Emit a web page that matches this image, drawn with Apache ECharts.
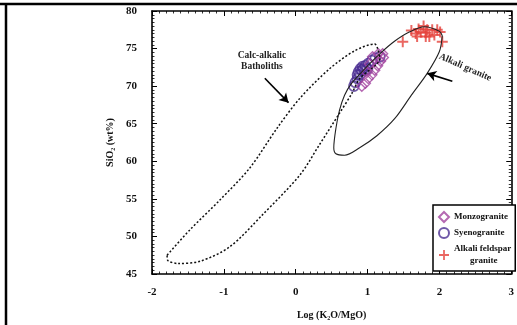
<!DOCTYPE html>
<html>
<head>
<meta charset="utf-8">
<script src="https://cdn.jsdelivr.net/npm/echarts@6/dist/echarts.min.js"></script>
<style>
html,body{margin:0;padding:0;background:#fff;}
#chart{width:517px;height:325px;}
</style>
</head>
<body>
<div id="chart"></div>
<script>
// ---- Data ----
const xTicks = [-2, -1, 0, 1, 2, 3];
const yTicks = [45, 50, 55, 60, 65, 70, 75, 80];

const calcAlkalicX = [-1.79, -1.47, -1.06, -0.64, -0.26, 0.06, 0.47, 0.82, 1.10, 1.14, 1.17, 0.89, 0.78, 0.61, 0.33, 0.06, -0.46, -0.92, -1.33, -1.64, -1.78, -1.79];
const calcAlkalicY = [47.5, 50.9, 54.8, 59.1, 64.4, 68.4, 72.3, 74.7, 75.6, 75.0, 73.7, 71.0, 69.0, 66.4, 62.2, 58.2, 52.9, 48.6, 46.7, 46.4, 46.8, 47.5];

const alkaliGraniteX = [2.04, 2.00, 1.79, 1.58, 1.38, 1.17, 0.96, 0.78, 0.68, 0.61, 0.56, 0.53, 0.56, 0.68, 0.89, 1.13, 1.38, 1.61, 1.83, 2.00, 2.04];
const alkaliGraniteY = [76.7, 77.3, 77.9, 77.2, 76.0, 74.3, 72.3, 70.4, 68.8, 66.8, 64.4, 61.8, 61.0, 60.8, 61.8, 63.4, 65.7, 68.8, 71.7, 74.6, 76.7];

const monzoX = [0.92, 0.97, 1.01, 1.06, 1.10, 1.14, 1.18, 1.22, 1.21, 1.15, 1.07, 1.03, 0.99];
const monzoY = [70.0, 70.4, 71.0, 71.5, 72.1, 72.7, 73.3, 73.8, 74.3, 74.3, 73.9, 72.9, 71.8];

const syenoX = [0.81, 0.83, 0.86, 0.89, 0.92, 0.94, 0.97, 1.01, 1.06, 1.11, 1.17, 0.875, 0.90, 0.93, 0.96, 0.86, 1.00];
const syenoY = [70.0, 70.5, 71.0, 71.5, 72.1, 72.3, 72.7, 73.0, 73.4, 73.7, 73.9, 71.9, 72.3, 72.6, 72.1, 71.5, 72.3];

const afgX = [1.49, 1.61, 1.67, 1.71, 1.74, 1.78, 1.81, 1.83, 1.86, 1.90, 1.93, 1.97, 2.01, 2.04, 1.69, 1.81];
const afgY = [75.9, 77.4, 77.0, 77.6, 77.2, 78.0, 77.1, 77.5, 76.6, 77.5, 76.8, 77.5, 77.2, 75.9, 76.6, 76.6];

const seriesNames = ['Monzogranite', 'Syenogranite', 'Alkali feldspar\ngranite'];
const xTitle = 'Log (K\u2082O/MgO)';
const yTitle = 'SiO\u2082 (wt%)';

const calcArrow = [[-0.43, 71.05], [-0.10, 67.8]];
const alkArrow = [[2.18, 70.66], [1.83, 71.7]];

function zip(xs, ys) { return xs.map((x, i) => [x, ys[i]]); }

const FONT = '"Liberation Serif", "Times New Roman", serif';
const crossPath = 'path://M4.1,0 H5.9 V4.1 H10 V5.9 H5.9 V10 H4.1 V5.9 H0 V4.1 H4.1 Z';

const chart = echarts.init(document.getElementById('chart'));

function axisBase(pos, showLabel) {
  return {
    type: 'value',
    position: pos,
    axisLine: {show: true, onZero: false, lineStyle: {color: '#000', width: 1.6}},
    axisTick: {show: true, inside: true, length: 5, lineStyle: {color: '#000', width: 1}},
    minorTick: {show: true, splitNumber: 10, length: 2.5, lineStyle: {color: '#000', width: 0.8}},
    splitLine: {show: false},
    axisLabel: {show: showLabel, color: '#111', fontFamily: FONT, fontWeight: 'bold', fontSize: 11}
  };
}

const xb = Object.assign(axisBase('bottom', true), {
  min: xTicks[0], max: xTicks[xTicks.length - 1], interval: 1,
  name: xTitle, nameLocation: 'middle', nameGap: 36,
  nameTextStyle: {color: '#111', fontFamily: FONT, fontWeight: 'bold', fontSize: 10}
});
xb.axisLabel.margin = 13;
const xt = Object.assign(axisBase('top', false), {min: xTicks[0], max: xTicks[xTicks.length - 1], interval: 1});
const yl = Object.assign(axisBase('left', true), {
  min: yTicks[0], max: yTicks[yTicks.length - 1], interval: 5,
  name: yTitle, nameLocation: 'middle', nameGap: 32,
  nameTextStyle: {color: '#111', fontFamily: FONT, fontWeight: 'bold', fontSize: 10}
});
yl.axisLabel.margin = 15;
const yr = Object.assign(axisBase('right', false), {min: yTicks[0], max: yTicks[yTicks.length - 1], interval: 5});

chart.setOption({
  animation: false,
  grid: {left: 152, right: 5, top: 11, bottom: 48},
  xAxis: [xb, xt],
  yAxis: [yl, yr],
  legend: {
    orient: 'vertical',
    left: 433, top: 205,
    padding: [6, 4, 4, 5],
    backgroundColor: '#fff',
    borderColor: '#000', borderWidth: 1.5,
    itemWidth: 10, itemHeight: 10, itemGap: 4,
    data: seriesNames,
    textStyle: {color: '#111', fontFamily: FONT, fontWeight: 'bold', fontSize: 9, lineHeight: 12,
      rich: {c: {fontFamily: FONT, fontWeight: 'bold', fontSize: 9, lineHeight: 12, color: '#111', padding: [0, 0, 0, 16]}}},
    formatter: function (n) {
      if (n.indexOf('\n') >= 0) { const p = n.split('\n'); return p[0] + '\n{c|' + p[1] + '}'; }
      return n;
    }
  },
  series: [
    {
      type: 'line', name: 'Calc-alkalic Batholiths', data: zip(calcAlkalicX, calcAlkalicY),
      showSymbol: false, smooth: 0.3, silent: true,
      lineStyle: {color: '#111', width: 1.5, type: [2, 2]},
      markLine: {silent: true, symbol: ['none', 'arrow'], symbolSize: [8, 9], label: {show: false},
        lineStyle: {color: '#000', width: 1.6, type: 'solid'},
        data: [[{coord: calcArrow[0]}, {coord: calcArrow[1]}], [{coord: alkArrow[0]}, {coord: alkArrow[1]}]]}
    },
    {
      type: 'line', name: 'Alkali granite', data: zip(alkaliGraniteX, alkaliGraniteY),
      showSymbol: false, smooth: 0.3, silent: true,
      lineStyle: {color: '#222', width: 1.1}
    },
    {
      type: 'scatter', name: seriesNames[1], data: zip(syenoX, syenoY),
      symbol: 'circle', symbolSize: 10,
      itemStyle: {color: 'rgba(255,255,255,0)', borderColor: '#4b2e92', borderWidth: 1.6}
    },
    {
      type: 'scatter', name: seriesNames[0], data: zip(monzoX, monzoY),
      symbol: 'diamond', symbolSize: 10,
      itemStyle: {color: 'rgba(255,255,255,0)', borderColor: '#a3449f', borderWidth: 1.4}
    },
    {
      type: 'scatter', name: seriesNames[2], data: zip(afgX, afgY),
      symbol: crossPath, symbolSize: 11,
      itemStyle: {color: '#e5413b'}
    }
  ]
});

// annotations anchored in data space
const calcLabel = chart.convertToPixel({gridIndex: 0}, [-0.47, 73.4]);
const alkLabel = chart.convertToPixel({gridIndex: 0}, [2.36, 72.5]);
chart.setOption({
  graphic: [
    {type: 'line', shape: {x1: 0, y1: 4, x2: 517, y2: 4}, style: {stroke: '#000', lineWidth: 2.5}},
    {type: 'line', shape: {x1: 6, y1: 3, x2: 6, y2: 325}, style: {stroke: '#000', lineWidth: 2.5}},
    {type: 'text', x: calcLabel[0], y: calcLabel[1],
      style: {text: 'Calc-alkalic\nBatholiths', fill: '#222', font: 'bold 9.5px ' + FONT, textAlign: 'center', textVerticalAlign: 'middle', lineHeight: 11}},
    {type: 'text', x: alkLabel[0], y: alkLabel[1], rotation: -0.42,
      style: {text: 'Alkali granite', fill: '#222', font: 'bold 9.5px ' + FONT, textAlign: 'center', textVerticalAlign: 'middle'}}
  ]
});
</script>
</body>
</html>
